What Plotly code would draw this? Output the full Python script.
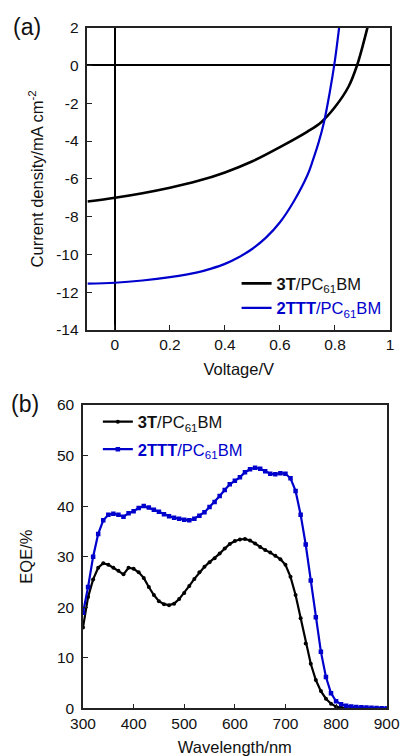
import plotly.graph_objects as go

# ---------------- Panel (a): J-V curves ----------------
v_3T = [-0.1, 0.0, 0.1, 0.2, 0.3, 0.4, 0.5, 0.6, 0.7, 0.75, 0.8, 0.85, 0.88, 0.9, 0.918]
j_3T = [-7.2, -7.0, -6.76, -6.47, -6.12, -5.66, -5.07, -4.32, -3.5, -3.0, -2.2, -1.1, 0.0, 1.0, 2.0]

v_2TTT = [-0.1, 0.0, 0.1, 0.2, 0.3, 0.35, 0.4, 0.45, 0.5, 0.55, 0.6, 0.65, 0.7, 0.72, 0.74, 0.76, 0.78, 0.8, 0.815]
j_2TTT = [-11.55, -11.5, -11.38, -11.2, -10.95, -10.75, -10.5, -10.15, -9.7, -9.1, -8.3, -7.2, -5.8, -5.0, -4.1, -3.0, -1.5, 0.3, 2.0]

a_xticks = [0, 0.2, 0.4, 0.6, 0.8, 1.0]
a_xticktext = ["0", "0.2", "0.4", "0.6", "0.8", "1"]
a_yticks = [2, 0, -2, -4, -6, -8, -10, -12, -14]
a_yticktext = ["2", "0", "-2", "-4", "-6", "-8", "-10", "-12", "-14"]

# ---------------- Panel (b): EQE spectra ----------------
wavelength = list(range(300, 901, 10))
eqe_3T = [16.0, 22.0, 25.5, 27.8, 28.7, 28.4, 27.8, 27.2, 26.5, 27.8,
          27.6, 26.9, 25.8, 24.0, 22.4, 21.2, 20.6, 20.4, 20.7, 21.6,
          22.8, 24.2, 25.6, 26.9, 28.0, 28.9, 29.7, 30.6, 31.6, 32.5,
          33.1, 33.4, 33.5, 33.2, 32.6, 31.9, 31.3, 30.8, 30.2, 29.5,
          28.4, 26.0, 22.4, 17.8, 12.8, 8.8, 5.6, 3.4, 1.9, 0.9,
          0.3, 0.1, 0.05, 0.0, 0.0, 0.0, 0.0, 0.0, 0.0, 0.0, 0.0]
eqe_2TTT = [18.9, 24.0, 30.0, 34.5, 37.2, 38.3, 38.5, 38.3, 37.9, 38.6,
            39.0, 39.6, 40.0, 39.7, 39.3, 38.9, 38.4, 38.0, 37.7, 37.5,
            37.3, 37.2, 37.5, 38.1, 38.8, 39.8, 40.8, 42.0, 43.2, 44.3,
            45.0, 45.7, 46.7, 47.3, 47.6, 47.4, 46.9, 46.4, 46.3, 46.5,
            46.4, 45.5, 43.0, 38.3, 32.4, 25.3, 18.0, 11.2, 6.2, 3.0,
            1.4, 0.8, 0.5, 0.35, 0.25, 0.2, 0.15, 0.1, 0.05, 0.03, 0.0]

b_xticks = [300, 400, 500, 600, 700, 800, 900]
b_yticks = [0, 10, 20, 30, 40, 50, 60]

BLACK = "#000000"
BLUE = "#0000CC"
FONT = "Arial, Liberation Sans, sans-serif"

name_3T = "<b>3T</b>/PC<sub>61</sub>BM"
name_2TTT = "<span style='color:#0000CC'><b>2TTT</b>/PC<sub>61</sub>BM</span>"

fig = go.Figure()

fig.add_trace(go.Scatter(x=v_3T, y=j_3T, mode="lines", name=name_3T,
                         line=dict(color=BLACK, width=2.6, shape="spline", smoothing=1.0),
                         xaxis="x", yaxis="y", legend="legend"))
fig.add_trace(go.Scatter(x=v_2TTT, y=j_2TTT, mode="lines", name=name_2TTT,
                         line=dict(color=BLUE, width=2.2, shape="spline", smoothing=1.0),
                         xaxis="x", yaxis="y", legend="legend"))

fig.add_trace(go.Scatter(x=wavelength, y=eqe_3T, mode="lines+markers", name=name_3T,
                         line=dict(color=BLACK, width=2.2),
                         marker=dict(symbol="circle", size=4, color=BLACK),
                         xaxis="x2", yaxis="y2", legend="legend2", legendgroup="b1"))
fig.add_trace(go.Scatter(x=wavelength, y=eqe_2TTT, mode="lines+markers", name=name_2TTT,
                         line=dict(color=BLUE, width=2.2),
                         marker=dict(symbol="square", size=4.5, color=BLUE),
                         xaxis="x2", yaxis="y2", legend="legend2", legendgroup="b2"))

axis_common = dict(showline=True, linecolor="#222222", linewidth=1.5, mirror=True,
                   ticks="inside", ticklen=5, tickwidth=1.3, tickcolor="#222222",
                   showgrid=False, automargin=False,
                   tickfont=dict(family=FONT, size=15.5, color="#111111"),
                   title_font=dict(family=FONT, size=16.5, color="#111111"))

fig.update_layout(
    width=401, height=756, autosize=False,
    margin=dict(l=0, r=0, t=0, b=0, autoexpand=False),
    paper_bgcolor="white", plot_bgcolor="white",
    font=dict(family=FONT, size=15.5, color="#111111"),
    xaxis=dict(domain=[0.218, 0.9726], anchor="y", range=[-0.1, 1.0],
               tickvals=a_xticks, ticktext=a_xticktext,
               zeroline=True, zerolinecolor="#000000", zerolinewidth=1.6,
               title=dict(text="Voltage/V", standoff=11), **axis_common),
    yaxis=dict(domain=[0.5635, 0.9634], anchor="x", range=[-14, 2],
               tickvals=a_yticks, ticktext=a_yticktext,
               zeroline=True, zerolinecolor="#000000", zerolinewidth=1.6,
               ticklabelstandoff=4,
               title=dict(text="Current density/mA cm<sup>-2</sup>", standoff=8), **axis_common),
    xaxis2=dict(domain=[0.207, 0.9643], anchor="y2", range=[300, 900],
                tickvals=b_xticks, zeroline=False,
                title=dict(text="Wavelength/nm", standoff=11), **axis_common),
    yaxis2=dict(domain=[0.0631, 0.4643], anchor="x2", range=[0, 60],
                tickvals=b_yticks, zeroline=False,
                ticklabelstandoff=4,
                title=dict(text="EQE/%", standoff=20), **axis_common),
    legend=dict(x=0.59, y=0.648, xanchor="left", yanchor="top",
                bgcolor="rgba(0,0,0,0)", itemwidth=30, tracegroupgap=0,
                font=dict(family=FONT, size=16.5, color="#111111")),
    legend2=dict(x=0.244, y=0.465, xanchor="left", yanchor="top",
                 bgcolor="rgba(0,0,0,0)", itemwidth=30, tracegroupgap=3,
                 font=dict(family=FONT, size=16.5, color="#111111")),
    annotations=[
        dict(text="(a)", x=11 / 401, y=1 - 27 / 756, xref="paper", yref="paper",
             xanchor="left", yanchor="middle", showarrow=False,
             font=dict(family=FONT, size=23, color="#111111")),
        dict(text="(b)", x=9 / 401, y=1 - 404 / 756, xref="paper", yref="paper",
             xanchor="left", yanchor="middle", showarrow=False,
             font=dict(family=FONT, size=23, color="#111111")),
    ],
)

fig.write_html("out.html")
